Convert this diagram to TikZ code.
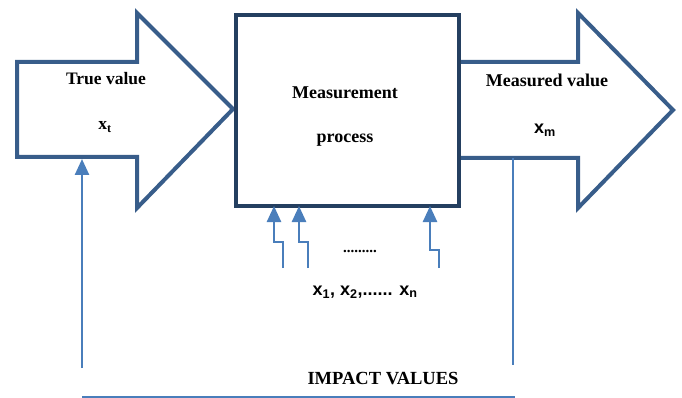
\documentclass[tikz,border=0pt]{standalone}
\usepackage{fontspec}
\setmainfont{Liberation Serif}
\setsansfont{Liberation Sans}
\usetikzlibrary{arrows.meta}
\definecolor{boxcol}{HTML}{243F60}
\definecolor{arrcol}{HTML}{385D8A}
\definecolor{linecol}{HTML}{4A7EBB}
\tikzset{
  bigarrow/.style={draw=arrcol, line width=4pt, line join=miter, fill=white},
  procbox/.style={draw=boxcol, line width=4pt, fill=white},
  feed/.style={draw=linecol, line width=2.5pt},
  feedarrow/.style={feed, -{Triangle[width=14pt,length=16pt]}},
  lbl/.style={font=\fontsize{18}{20}\selectfont\bfseries, inner sep=0pt},
  slbl/.style={font=\fontsize{18}{20}\selectfont\sffamily\bfseries, inner sep=0pt}
}
\begin{document}
\begin{tikzpicture}[x=1pt,y=-1pt]
\useasboundingbox (0,0) rectangle (682,398);
% left big arrow
\draw[bigarrow] (17,62) -- (137,62) -- (137,13) -- (233,109) -- (137,208) -- (137,157) -- (17,157) -- cycle;
% right big arrow
\draw[bigarrow] (457,62) -- (578,62) -- (578,13) -- (673,110) -- (578,208) -- (578,158) -- (457,158);
% process box
\node[procbox, minimum width=223pt, minimum height=191pt, anchor=north west, inner sep=0pt] (box) at (234,13) {};
% texts
\node[lbl, font=\fontsize{17.5}{20}\selectfont\bfseries] (tv) at (106,79) {True value};
\node[lbl, font=\fontsize{17.5}{20}\selectfont\bfseries] (xt) at (105,127) {x\textsubscript{t}};
\node[lbl] (m1) at (345,93) {Measurement};
\node[lbl] (m2) at (345,140) {process};
\node[lbl] (mv) at (547,80) {Measured value};
\node[slbl] (xm) at (545,130) {x\textsubscript{m}};
\node[lbl, font=\fontsize{15}{16}\selectfont\bfseries] (dots) at (360,251) {.........};
\node[slbl] (xs) at (365,292) {x\textsubscript{1}, x\textsubscript{2},...... x\textsubscript{n}};
\node[lbl, font=\fontsize{18.5}{20}\selectfont\bfseries] (iv) at (383,379) {IMPACT VALUES};
% coordinates
\coordinate (la0) at (82,368);
\coordinate (la1) at (82,159);
\coordinate (bl0) at (82,397);
\coordinate (bl1) at (515,397);
\coordinate (rv0) at (513,158);
\coordinate (rv1) at (513,365);
% feedback lines
\draw[feedarrow] (la0) -- (la1);
\draw[feed] (bl0) -- (bl1);
\draw[feed] (rv0) -- (rv1);
% small input arrows
\draw[feedarrow] (283,268) -- (283,242) -- (274,242) -- (274,206);
\draw[feedarrow] (308,268) -- (308,242) -- (299,242) -- (299,206);
\draw[feedarrow] (439,268) -- (439,250) -- (430,250) -- (430,206);
\end{tikzpicture}
\end{document}
